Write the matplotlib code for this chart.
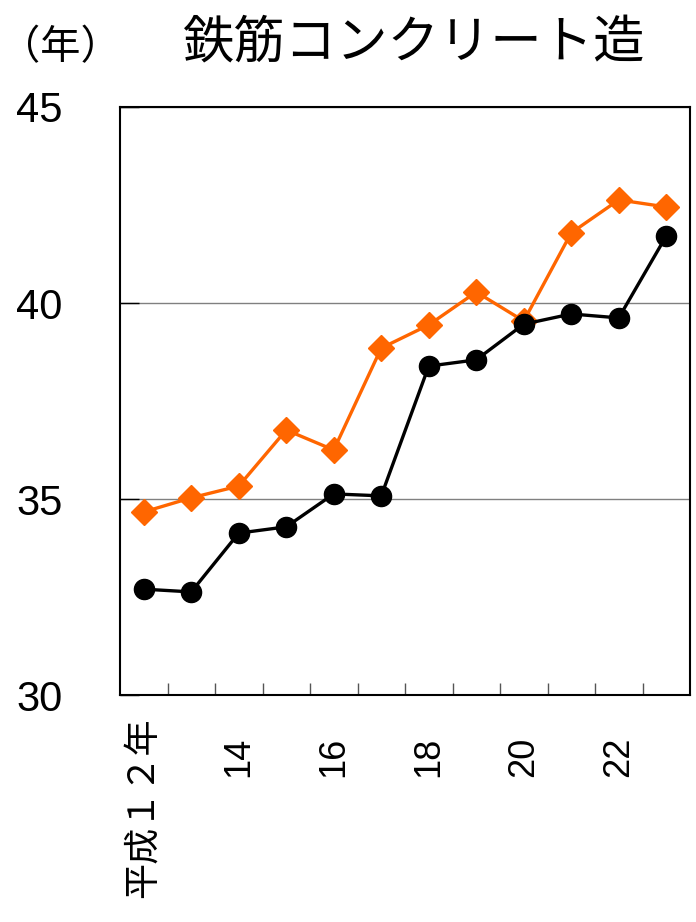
import matplotlib
matplotlib.use("Agg")
import matplotlib.pyplot as plt
from matplotlib.ticker import FixedLocator
from matplotlib.transforms import ScaledTranslation

plt.rcParams['font.family'] = ['Noto Sans CJK JP', 'DejaVu Sans']

years = ["平成１２年", "13", "14", "15", "16", "17", "18", "19", "20", "21", "22", "23"]
shown_labels = ["平成１２年", "", "14", "", "16", "", "18", "", "20", "", "22", ""]
black_series = [32.70, 32.63, 34.13, 34.29, 35.13, 35.08, 38.39, 38.55, 39.46, 39.72, 39.62, 41.71]
orange_series = [34.67, 35.03, 35.33, 36.76, 36.25, 38.85, 39.44, 40.28, 39.54, 41.79, 42.63, 42.45]
y_ticks = [30, 35, 40, 45]
title = "鉄筋コンクリート造"
unit = "（年）"

fig = plt.figure(figsize=(6.96, 9.22), dpi=100)
ax = fig.add_axes([120/696, 1-695/922, 570/696, 588/922])

x = list(range(len(years)))
ax.plot(x, orange_series, color='#FF6600', lw=2.4, marker='D', markersize=13, zorder=3)
ax.plot(x, black_series, color='black', lw=2.4, marker='o', markersize=14.5, zorder=4)

ax.set_xlim(-0.5, len(years)-0.5)
ax.set_ylim(30, 45)
ax.set_yticks(y_ticks)
ax.set_yticklabels([str(v) for v in y_ticks], fontsize=30, family=['Liberation Sans', 'DejaVu Sans'])
ax.tick_params(axis='y', direction='in', length=14, width=1, pad=58)
for lab in ax.get_yticklabels():
    lab.set_horizontalalignment('center')
ax.yaxis.grid(True, color='#808080', lw=1)
ax.set_axisbelow(True)

ax.set_xticks(x)
ax.set_xticklabels(shown_labels, rotation=90, fontsize=26, family=['Liberation Sans', 'Noto Sans CJK JP'], va='top')
ax.tick_params(axis='x', which='major', length=0, pad=30)
labs = ax.get_xticklabels()
labs[0].set_transform(labs[0].get_transform() + ScaledTranslation(0, 19/100, fig.dpi_scale_trans))
ax.xaxis.set_minor_locator(FixedLocator([i + 0.5 for i in range(len(years)-1)]))
ax.tick_params(axis='x', which='minor', direction='in', length=9, width=1, color='#555555')

for s in ax.spines.values():
    s.set_linewidth(1.5)
    s.set_color('black')

fig.text(414/696, 1-44/922, title, fontsize=37, ha='center', va='center')
fig.text(0.0, 1-48/922, unit, fontsize=29, ha='left', va='center')

fig.savefig('out.png', dpi=100)
